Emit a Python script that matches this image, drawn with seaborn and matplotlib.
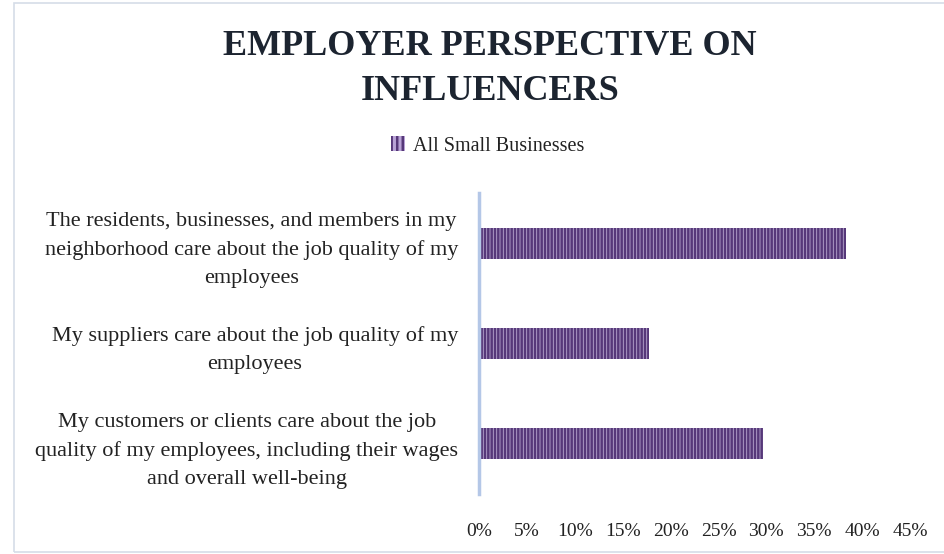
import matplotlib
matplotlib.use("Agg")
import matplotlib.pyplot as plt
import matplotlib.patches as mpatches
from matplotlib.ticker import FuncFormatter
import seaborn as sns
import pandas as pd

categories = [
    "The residents, businesses, and members in my\nneighborhood care about the job quality of my\nemployees",
    "My suppliers care about the job quality of my\nemployees",
    "My customers or clients care about the job\nquality of my employees, including their wages\nand overall well-being",
]
values = [38.3, 17.8, 29.7]
series_name = "All Small Businesses"
x_ticks = [0, 5, 10, 15, 20, 25, 30, 35, 40, 45]

sns.set_theme(style="white")
plt.rcParams["font.family"] = ["Liberation Serif", "DejaVu Serif"]
plt.rcParams["hatch.linewidth"] = 1.8
plt.rcParams["hatch.color"] = "#563879"

df = pd.DataFrame({"Statement": categories, "Share": values, "Series": series_name})

fig = plt.figure(figsize=(9.45, 5.54), dpi=100)
W, H = 945, 554
ax = fig.add_axes([479 / W, 1 - 494 / H, (910 - 479) / W, (494 - 193) / H])

sns.barplot(data=df, x="Share", y="Statement", hue="Series", orient="h",
            palette=["#b9a3d6"], width=0.31, ax=ax, legend=False)

for p in ax.patches:
    p.set_hatch("|||||")
    p.set_edgecolor("#563879")
    p.set_linewidth(0)

ax.set_xlim(0, 45)
ax.set_xticks(x_ticks)
ax.xaxis.set_major_formatter(FuncFormatter(lambda v, _: f"{v:.0f}%"))
ax.tick_params(axis="x", length=0, pad=21, labelsize=14, labelcolor="#222222")
ax.tick_params(axis="y", length=0, pad=15, labelsize=16, labelcolor="#222222")
for lbl in ax.get_yticklabels():
    lbl.set_multialignment("center")
    lbl.set_linespacing(1.62)
ax.set_xlabel("")
ax.set_ylabel("")
for s in ["top", "right", "bottom"]:
    ax.spines[s].set_visible(False)
ax.spines["left"].set_color("#b4c7e7")
ax.spines["left"].set_linewidth(2.5)

# legend
handle = mpatches.Patch(facecolor="#b9a3d6", edgecolor="#563879", hatch="|||", linewidth=0)
fig.legend([handle], [series_name], loc="center", bbox_to_anchor=(488 / W, 1 - 146 / H),
           frameon=False, fontsize=14.5, handlelength=0.7, handleheight=0.7,
           handletextpad=0.4, labelcolor="#222222")

fig.text(490 / W, 1 - 69 / H, "EMPLOYER PERSPECTIVE ON\nINFLUENCERS", ha="center", va="center",
         fontsize=26, fontweight="bold", color="#1c2430", linespacing=1.45)

# frame around the chart area
fig.patches.append(mpatches.Rectangle((14 / W, 2 / H), 1.2, 1 - 5 / H, transform=fig.transFigure,
                                      fill=False, edgecolor="#d5dde8", linewidth=1.2))

fig.savefig("out.png", dpi=100)
